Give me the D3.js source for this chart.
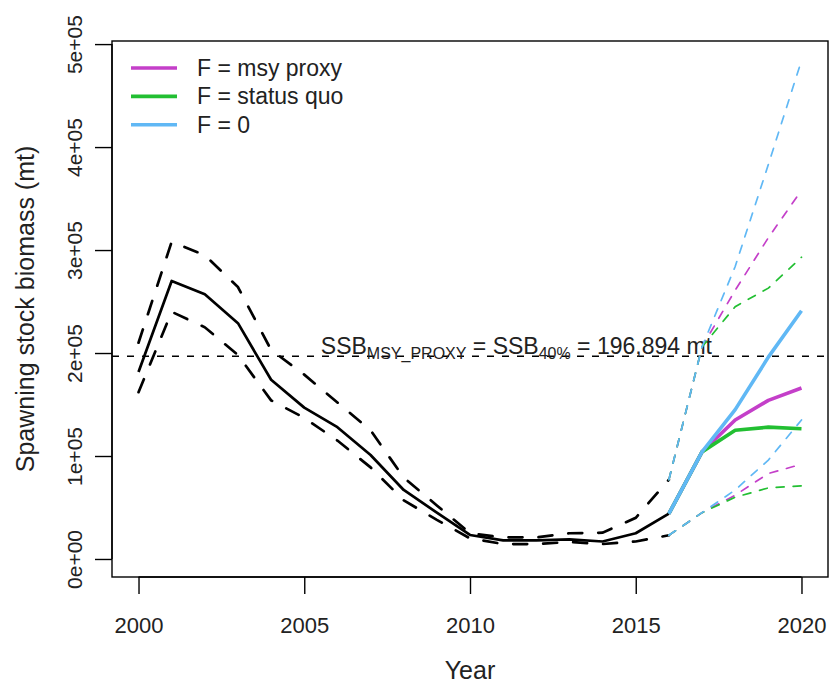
<!DOCTYPE html>
<html>
<head>
<meta charset="utf-8">
<script src="https://cdn.jsdelivr.net/npm/d3@7"></script>
<style>
  body { margin: 0; background: #fff; }
  text { font-family: "Liberation Sans", Arial, sans-serif; }
</style>
</head>
<body>
<svg id="chart"></svg>
<script>
// historical assessment (2000-2016)
var years = d3.range(2000, 2017)
var ssb = [181500, 270000, 257000, 229000, 174000, 147000, 128000, 101000, 67000, 45000, 23300, 18000, 18000, 19000, 17000, 25000, 44000]
var ssbHi = [210000, 308000, 295000, 264000, 203000, 179000, 152000, 125000, 79000, 52000, 25000, 21000, 21000, 25000, 25500, 40000, 77000]
var ssbLo = [162000, 240000, 225000, 198000, 154000, 137000, 115000, 89000, 57000, 38000, 20000, 14500, 14500, 16500, 14500, 17000, 23000]

// projections (2016-2020)
var projYears = [2016, 2017, 2018, 2019, 2020]
var msy = [44000, 104000, 135000, 154000, 166000]
var msyHi = [77000, 206000, 261000, 312000, 358000]
var msyLo = [23000, 45000, 62000, 83000, 92000]
var sq = [44000, 104000, 125000, 128000, 126500]
var sqHi = [77000, 206000, 245000, 263000, 293000]
var sqLo = [23000, 45000, 60000, 69000, 71000]
var f0 = [44000, 104000, 145000, 196000, 241000]
var f0Hi = [77000, 206000, 284000, 383000, 484000]
var f0Lo = [23000, 45000, 67000, 96000, 135000]

var ssbMsy = 196894
var xTicks = [2000, 2005, 2010, 2015, 2020]
var yTicks = [0, 100000, 200000, 300000, 400000, 500000]
var yTickLabels = ["0e+00", "1e+05", "2e+05", "3e+05", "4e+05", "5e+05"]

var scenarios = [
  {name: "F = msy proxy", color: "#C43FC9", mid: msy, hi: msyHi, lo: msyLo},
  {name: "F = status quo", color: "#22BF32", mid: sq, hi: sqHi, lo: sqLo},
  {name: "F = 0", color: "#60B8F5", mid: f0, hi: f0Hi, lo: f0Lo}
]

var width = 830, height = 685
var box = {left: 112, right: 828, top: 41, bottom: 577}

var svg = d3.select("#chart").attr("width", width).attr("height", height)

var x = d3.scaleLinear().domain([1999.2, 2020.8]).range([box.left, box.right])
var y = d3.scaleLinear().domain([-17500, 503000]).range([box.bottom, box.top])

var line = d3.line().x(d => x(d[0])).y(d => y(d[1]))
var zipYears = (ys, vs) => ys.map((yr, i) => [yr, vs[i]])

// reference line
svg.append("line")
  .attr("x1", box.left).attr("x2", box.right)
  .attr("y1", y(ssbMsy)).attr("y2", y(ssbMsy))
  .attr("stroke", "#000").attr("stroke-width", 1.5)
  .attr("stroke-dasharray", "7,8")

var lab = svg.append("text")
  .attr("x", x(2005.5)).attr("y", y(ssbMsy) - 2.5)
  .style("font-size", "23px").attr("fill", "#222")
lab.append("tspan").text("SSB")
lab.append("tspan").attr("dy", 5).style("font-size", "16px").text("MSY_PROXY")
lab.append("tspan").attr("dy", -5).text(" = SSB")
lab.append("tspan").attr("dy", 5).style("font-size", "16px").text("40%")
lab.append("tspan").attr("dy", -5).text(" = 196,894 mt")

// historical
;[ssbHi, ssbLo].forEach(v => {
  svg.append("path").datum(zipYears(years, v)).attr("d", line)
    .attr("fill", "none").attr("stroke", "#000").attr("stroke-width", 2.7)
    .attr("stroke-dasharray", "14,16").attr("stroke-linecap", "round")
})
svg.append("path").datum(zipYears(years, ssb)).attr("d", line)
  .attr("fill", "none").attr("stroke", "#000").attr("stroke-width", 2.7)
  .attr("stroke-linejoin", "round")

// projection bounds
scenarios.forEach(s => {
  ;[s.hi, s.lo].forEach(v => {
    svg.append("path").datum(zipYears(projYears, v)).attr("d", line)
      .attr("fill", "none").attr("stroke", s.color).attr("stroke-width", 1.7)
      .attr("stroke-dasharray", "8,9").attr("stroke-linecap", "round")
  })
})
// projection medians
scenarios.forEach(s => {
  svg.append("path").datum(zipYears(projYears, s.mid)).attr("d", line)
    .attr("fill", "none").attr("stroke", s.color).attr("stroke-width", 3.6)
    .attr("stroke-linejoin", "round")
})

// box
svg.append("rect")
  .attr("x", box.left).attr("y", box.top)
  .attr("width", box.right - box.left).attr("height", box.bottom - box.top)
  .attr("fill", "none").attr("stroke", "#000").attr("stroke-width", 1.4)

// axes
var xAxis = svg.append("g").attr("transform", `translate(0,${box.bottom})`)
  .call(d3.axisBottom(x).tickValues(xTicks).tickFormat(d3.format("d")).tickSize(17))
xAxis.select(".domain").attr("d", `M${x(2000)},0H${x(2020)}`)
xAxis.selectAll("text").style("font-size", "22px").attr("fill", "#222")
  .attr("y", 55.5).attr("dy", null)

var yAxis = svg.append("g").attr("transform", `translate(${box.left},0)`)
  .call(d3.axisLeft(y).tickValues(yTicks).tickFormat((d, i) => yTickLabels[i]).tickSize(17))
yAxis.select(".domain").attr("d", `M0,${y(0)}V${y(500000)}`)
yAxis.selectAll("text")
  .style("font-size", "21px").attr("fill", "#222")
  .attr("text-anchor", "middle").attr("dy", null)
  .attr("x", null).attr("y", null)
  .attr("transform", "translate(-30,0) rotate(-90)")
xAxis.selectAll("line, path").attr("stroke-width", 1.4)
yAxis.selectAll("line, path").attr("stroke-width", 1.4)

// axis titles
svg.append("text").attr("x", x(2010)).attr("y", 679)
  .attr("text-anchor", "middle").style("font-size", "25px").attr("fill", "#222").text("Year")
svg.append("text").attr("transform", `translate(34,${(box.top + box.bottom) / 2}) rotate(-90)`)
  .attr("text-anchor", "middle").style("font-size", "25px").attr("fill", "#222")
  .text("Spawning stock biomass (mt)")

// legend
var leg = svg.append("g").attr("transform", "translate(131,68)")
scenarios.forEach((s, i) => {
  leg.append("line").attr("x1", 0).attr("x2", 46).attr("y1", i * 28.4).attr("y2", i * 28.4)
    .attr("stroke", s.color).attr("stroke-width", 3.6)
  leg.append("text").attr("x", 66).attr("y", i * 28.4).attr("dy", "0.35em")
    .style("font-size", "23px").attr("fill", "#222").text(s.name)
})
</script>
</body>
</html>
